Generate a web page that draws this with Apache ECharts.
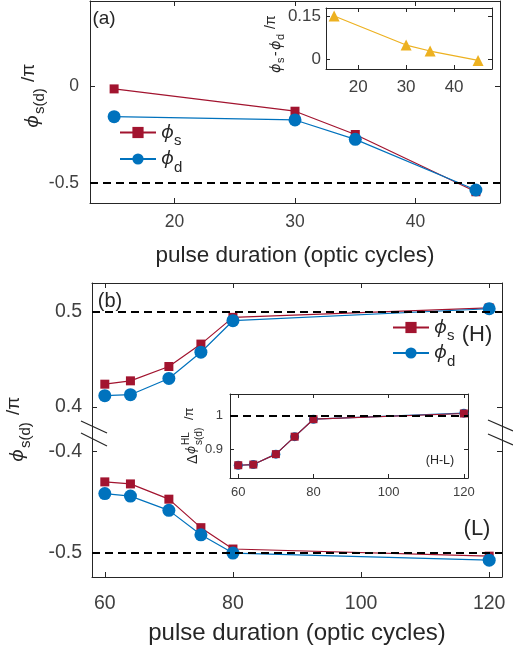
<!DOCTYPE html>
<html>
<head>
<meta charset="utf-8">
<title>phase vs pulse duration</title>
<script src="https://cdn.jsdelivr.net/npm/echarts@6/dist/echarts.min.js"></script>
<style>
html, body { margin: 0; background: #fff; }
#chart { width: 513px; height: 650px; }
</style>
</head>
<body>
<div id="chart"></div>
<script>
// panel (a): phases vs pulse duration
var durA = [15, 30, 35, 45];
var phiSA = [-0.015, -0.13, -0.25, -0.545];
var phiDA = [-0.158, -0.175, -0.275, -0.536];
var diffA = [0.152, 0.05, 0.029, -0.004];
// panel (b): upper (H) and lower (L) branches
var durB = [60, 64, 70, 75, 80, 120];
var phiSH = [0.424, 0.4275, 0.4425, 0.466, 0.494, 0.504];
var phiDH = [0.412, 0.413, 0.430, 0.4575, 0.4905, 0.503];
var phiSL = [-0.430, -0.432, -0.447, -0.475, -0.496, -0.503];
var phiDL = [-0.4415, -0.444, -0.458, -0.482, -0.500, -0.507];
// inset (b): H-L difference
var hlS = [0.853, 0.855, 0.886, 0.938, 0.99, 1.007];
var hlD = [0.853, 0.855, 0.886, 0.938, 0.99, 1.008];
// tick labels
var ticksAx = [20, 30, 40];
var ticksAy = [-0.5, 0];
var ticksAiy = [0, 0.15];
var ticksBx = [60, 80, 100, 120];
var ticksBup = [0.4, 0.5];
var ticksBlo = [-0.5, -0.4];
var ticksBiy = [0.9, 1];

var FONT = 'Liberation Sans', PHI = 'Noto Sans', TXT = '#262626', LBL = '#404040';
var RED = '#A2142F', BLUE = '#0072BD', GOLD = '#EDB120';

function pairs(xs, ys) {
  return xs.map(function (x, i) { return [x, ys[i]]; });
}

function axis(grid, pos, min, max, ticks, fs, margin, tl) {
  return {
    type: 'value', gridIndex: grid, position: pos, min: min, max: max,
    splitLine: { show: false },
    axisLine: { show: true, onZero: false, lineStyle: { color: TXT, width: 1 } },
    axisTick: { show: true, inside: true, length: tl, customValues: ticks, lineStyle: { color: TXT } },
    axisLabel: { show: fs > 0, customValues: ticks, fontSize: fs || 12, margin: margin,
      color: LBL, fontFamily: FONT }
  };
}

function dashed(v) {
  return { silent: true, symbol: ['none', 'none'], label: { show: false },
    lineStyle: { color: '#000', type: [8, 5], width: 2 }, data: [{ yAxis: v }] };
}

function line(name, xi, yi, data, sym, size, color, extra) {
  var s = { name: name, type: 'line', xAxisIndex: xi, yAxisIndex: yi, data: data,
    symbol: sym, symbolSize: size, showAllSymbol: true,
    itemStyle: { color: color }, lineStyle: { color: color, width: 1.2 } };
  for (var k in extra) s[k] = extra[k];
  return s;
}

function txt(x, y, t, size) {
  return { type: 'text', x: x, y: y, z: 100,
    style: { text: t, fontSize: size, fontFamily: FONT, fill: TXT, align: 'center', verticalAlign: 'middle' } };
}

function slash(x1, y1, x2, y2) {
  return { type: 'line', z: 100, shape: { x1: x1, y1: y1, x2: x2, y2: y2 },
    style: { stroke: TXT, lineWidth: 1.2 } };
}

// rotated axis title made of small pieces (sub/superscripts)
function vt(x, y, parts) {
  return { type: 'group', x: x, y: y, rotation: Math.PI / 2, z: 100,
    children: parts.map(function (p) {
      return { type: 'text', x: p[1], y: p[2],
        style: { text: p[0], fontSize: p[3], fontFamily: p[4] ? PHI : FONT,
          fontStyle: p[4] ? 'italic' : 'normal', fill: TXT, align: 'left', verticalAlign: 'middle' } };
    }) };
}

var legRich = {
  p: { fontFamily: PHI, fontStyle: 'italic', fontSize: 19, color: TXT, lineHeight: 32, verticalAlign: 'middle' },
  s: { fontFamily: FONT, fontSize: 15, color: TXT, lineHeight: 16, verticalAlign: 'bottom' }
};
function legFmt(n) { return n === 'phi_s' ? '{p|ϕ}{s|s}' : '{p|ϕ}{s|d}'; }

var chart = echarts.init(document.getElementById('chart'));

var xName = 'pulse duration (optic cycles)';
var xA = axis(0, 'bottom', 13, 47, ticksAx, 17.5, 10, 5);
xA.name = xName; xA.nameLocation = 'middle'; xA.nameGap = 41;
xA.nameTextStyle = { fontSize: 22.5, fontFamily: FONT, color: TXT };
var xB = axis(3, 'bottom', 58, 122, ticksBx, 19.5, 17, 5);
xB.name = xName; xB.nameLocation = 'middle'; xB.nameGap = 44;
xB.nameTextStyle = { fontSize: 24, fontFamily: FONT, color: TXT };

var option = {
  animation: false,
  backgroundColor: '#fff',
  grid: [
    { left: 90, top: 1, width: 410, height: 202 },
    { left: 326, top: 8, width: 166, height: 61 },
    { left: 92, top: 283, width: 410, height: 147 },
    { left: 92, top: 430, width: 410, height: 147 },
    { left: 230, top: 394, width: 238, height: 84 }
  ],
  xAxis: [
    xA,
    axis(0, 'top', 13, 47, ticksAx, 0, 8, 5),
    axis(1, 'bottom', 13.3, 47.9, ticksAx, 17, 10, 4),
    axis(1, 'top', 13.3, 47.9, ticksAx, 0, 8, 4),
    axis(2, 'top', 58, 122, ticksBx, 0, 8, 5),
    xB,
    axis(4, 'bottom', 57.8, 121.1, ticksBx, 13, 8, 4),
    axis(4, 'top', 57.8, 121.1, ticksBx, 0, 8, 4)
  ],
  yAxis: [
    axis(0, 'left', -0.603, 0.438, ticksAy, 17.5, 11, 5),
    axis(0, 'right', -0.603, 0.438, ticksAy, 0, 8, 5),
    axis(1, 'left', -0.034, 0.18, ticksAiy, 17, 5, 4),
    axis(1, 'right', -0.034, 0.18, ticksAiy, 0, 8, 4),
    axis(2, 'left', 0.376, 0.530, ticksBup, 19.5, 10, 5),
    axis(2, 'right', 0.376, 0.530, ticksBup, 0, 8, 5),
    axis(3, 'left', -0.5235, -0.379, ticksBlo, 19.5, 10, 5),
    axis(3, 'right', -0.5235, -0.379, ticksBlo, 0, 8, 5),
    axis(4, 'left', 0.815, 1.065, ticksBiy, 13, 7, 4),
    axis(4, 'right', 0.815, 1.065, ticksBiy, 0, 8, 4)
  ],
  legend: [
    { data: ['phi_s', 'phi_d'], orient: 'vertical', left: 114, top: 118, itemWidth: 36, itemHeight: 14,
      itemGap: 1, formatter: legFmt, textStyle: { rich: legRich } },
    { data: ['phi_s', 'phi_d'], orient: 'vertical', left: 387, top: 313, itemWidth: 36, itemHeight: 14,
      itemGap: 0, formatter: legFmt, textStyle: { rich: legRich } }
  ],
  series: [
    line('phi_s', 0, 0, pairs(durA, phiSA), 'rect', 9, RED),
    line('phi_d', 0, 0, pairs(durA, phiDA), 'circle', 13, BLUE, { markLine: dashed(-0.5) }),
    line('diff', 2, 2, pairs(durA, diffA), 'triangle', 11, GOLD),
    line('phi_s', 4, 4, pairs(durB, phiSH), 'rect', 9, RED),
    line('phi_d', 4, 4, pairs(durB, phiDH), 'circle', 13, BLUE, { markLine: dashed(0.5) }),
    line('phi_s', 5, 6, pairs(durB, phiSL), 'rect', 9, RED),
    line('phi_d', 5, 6, pairs(durB, phiDL), 'circle', 13, BLUE, { markLine: dashed(-0.5) }),
    line('hl_d', 6, 8, pairs(durB, hlD), 'circle', 9, BLUE, { markLine: dashed(1) }),
    line('hl_s', 6, 8, pairs(durB, hlS), 'rect', 8, RED)
  ],
  graphic: [
    txt(104, 19, '(a)', 19),
    txt(110, 301, '(b)', 20),
    txt(477, 335, '(H)', 22),
    txt(477, 529, '(L)', 22),
    txt(440, 461, '(H-L)', 12.5),
    vt(33, 128, [['ϕ', 0, 0, 19, 1], ['s(d)', 14, 7, 15], ['/π', 46, -4, 19]]),
    vt(18, 462, [['ϕ', 0, 0, 19, 1], ['s(d)', 14, 8, 15], ['/π', 47, -4, 19]]),
    vt(276, 73, [['ϕ', 0, 0, 14, 1], ['s', 10, 5, 11], ['-', 17, 0, 14], ['ϕ', 23, 0, 14, 1],
      ['d', 33, 5, 11], ['/π', 44, -5, 14]]),
    vt(193, 464, [['Δ', 0, 0, 14], ['ϕ', 10, -1, 12, 1], ['HL', 19, -7, 10], ['s(d)', 19, 6, 10],
      ['/π', 44, -4, 13]]),
    slash(81, 421, 107, 433),
    slash(81, 433, 107, 446),
    slash(488, 420, 513, 431),
    slash(488, 434, 513, 445)
  ]
};

chart.setOption(option);
</script>
</body>
</html>
